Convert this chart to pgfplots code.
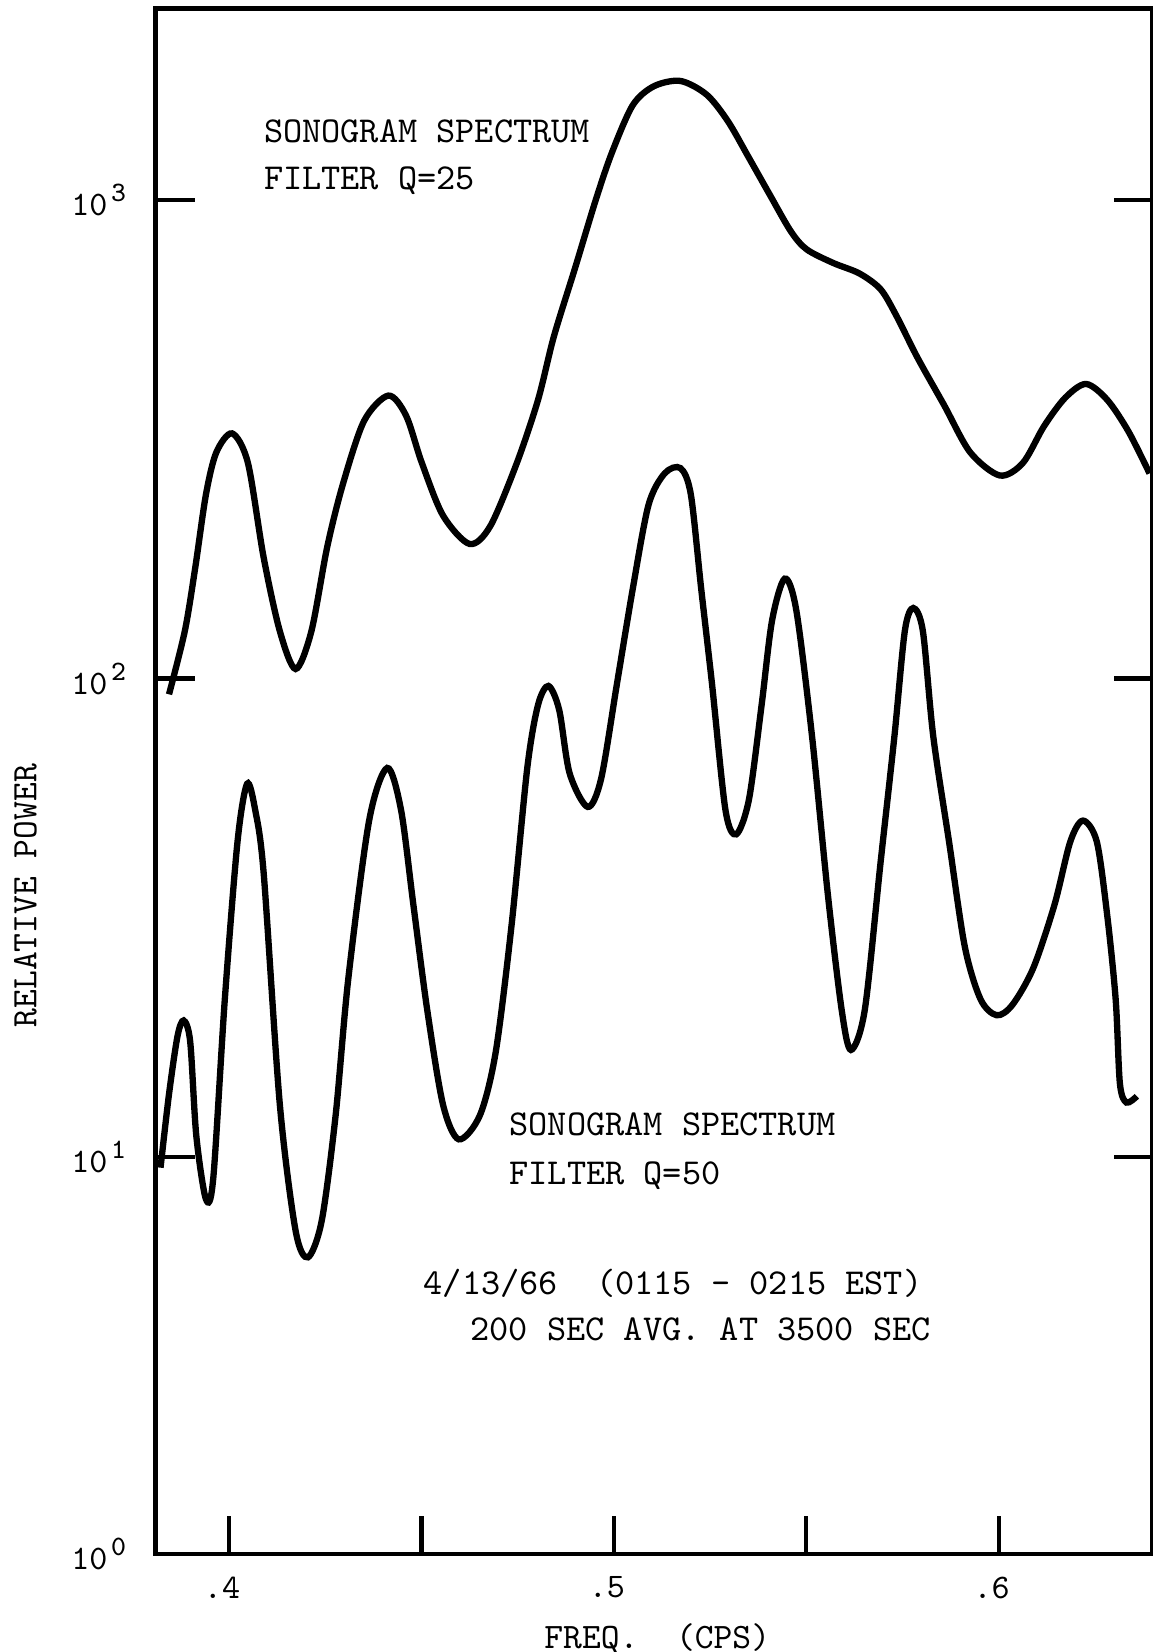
\documentclass[border=0pt]{standalone}
\usepackage{fontspec}
\renewcommand{\familydefault}{\ttdefault}
\usepackage{pgfplots}
\pgfplotsset{compat=1.18}

% decade label: 10 with a raised exponent
\newcommand{\dec}[1]{10\hspace{1pt}\raisebox{4pt}{\fontsize{8}{8}\selectfont #1}}

% Q=25 filter spectrum: frequency (cps), relative power
\pgfplotstableread{
f       p
0.3844  92.7
0.3885  125.6
0.3912  170.1
0.3940  242.4
0.3967  296.9
0.4008  325.2
0.4049  282.2
0.4090  178.9
0.4132  125.6
0.4173  104.7
0.4214  125.6
0.4255  188.2
0.4296  255.0
0.4351  345.5
0.4414  390.1
0.4460  354.3
0.4501  282.2
0.4556  219.1
0.4625  191.1
0.4679  208.3
0.4748  282.2
0.4803  382.3
0.4844  518.0
0.4899  719.7
0.4953  1000
0.4995  1255.7
0.5049  1576.5
0.5104  1727.5
0.5173  1771.9
0.5241  1659.0
0.5296  1461.5
0.5351  1224.2
0.5405  1025.6
0.5460  859.3
0.5501  788.2
0.5570  738.3
0.5638  702.0
0.5693  650.7
0.5734  573.1
0.5789  468.1
0.5858  372.8
0.5926  296.9
0.6003  265.6
0.6063  282.2
0.6118  336.9
0.6173  386.2
0.6227  412.5
0.6282  382.3
0.6337  328.5
0.6392  268.3
}\qtwentyfive

% Q=50 filter spectrum: frequency (cps), relative power
\pgfplotstableread{
f       p
0.3822  9.51
0.3844  13.55
0.3866  17.89
0.3882  19.31
0.3899  17.45
0.3915  11.07
0.3940  8.17
0.3959  9.04
0.3989  21.37
0.4022  45.62
0.4047  60.29
0.4068  53.12
0.4090  39.22
0.4132  12.88
0.4173  7.02
0.4205  6.18
0.4241  7.38
0.4277  12.24
0.4310  23.64
0.4364  50.50
0.4411  65.06
0.4447  53.12
0.4479  33.69
0.4515  20.31
0.4556  12.88
0.4597  10.90
0.4652  12.24
0.4693  16.59
0.4734  30.45
0.4775  65.06
0.4803  88.13
0.4830  96.52
0.4858  85.93
0.4885  63.42
0.4932  53.93
0.4967  61.82
0.5008  97.50
0.5049  153.8
0.5090  230.4
0.5132  268.3
0.5173  275.2
0.5200  242.4
0.5227  153.8
0.5255  97.50
0.5290  53.12
0.5318  47.27
0.5351  55.88
0.5384  88.13
0.5411  132.1
0.5444  161.7
0.5474  139.0
0.5515  75.71
0.5556  35.44
0.5592  20.31
0.5616  16.76
0.5652  20.31
0.5693  41.25
0.5729  75.71
0.5756  125.6
0.5778  140.4
0.5803  125.6
0.5830  75.71
0.5871  45.62
0.5912  27.52
0.5953  21.37
0.5995  19.80
0.6036  20.83
0.6090  24.86
0.6145  33.69
0.6186  45.62
0.6219  50.50
0.6255  45.62
0.6282  32.03
0.6304  21.37
0.6315  14.25
0.6332  13.01
0.6359  13.41
}\qfifty

\begin{document}
\begin{tikzpicture}
\useasboundingbox (-44.4pt,-27.9pt) rectangle (283.9pt,442.5pt);
\begin{axis}[
  at={(0,0)}, anchor=south west,
  scale only axis, width=283.8pt, height=440.1pt,
  xmin=0.381, xmax=0.640,
  ymode=log, ymin=1.483, ymax=2512,
  axis line style={line width=1.4pt},
  tick align=inside,
  major tick length=11pt,
  tick style={line width=1.2pt, black},
  xtick pos=bottom,
  ytick pos=both,
  xtick={0.4,0.45,0.5,0.55,0.6},
  xticklabels={.4,,.5,,.6},
  ytick={10,100,1000},
  yticklabels={\dec{1},\dec{2},\dec{3}},
  extra y ticks={1.483},
  extra y tick labels={\dec{0}},
  extra y tick style={major tick length=0pt},
  minor tick num=0,
  yminorticks=false,
  tick label style={font=\fontsize{9.8}{11}\selectfont},
  xticklabel style={yshift=-3pt, xshift=-2pt},
  yticklabel style={xshift=-5pt},
  label style={font=\fontsize{10.2}{12}\selectfont},
  xlabel={FREQ.\ \ (CPS)},
  ylabel={RELATIVE POWER},
  xlabel style={at={(axis description cs:0.503,-0.0545)}, anchor=center},
  ylabel style={at={(axis description cs:-0.131,0.426)}, anchor=center},
  every node/.append style={font=\fontsize{10.4}{12}\selectfont},
]
\addplot[black, line width=1.8pt, smooth, tension=0.5] table[x=f, y=p] {\qtwentyfive};
\addplot[black, line width=1.8pt, smooth, tension=0.5] table[x=f, y=p] {\qfifty};

\begin{scope}[every node/.style={anchor=base west, inner sep=0pt, font=\fontsize{10.4}{12}\selectfont}]
\node at (rel axis cs:0.1078,0.9134) {SONOGRAM SPECTRUM};
\node at (rel axis cs:0.1078,0.8828) {FILTER Q=25};
\node at (rel axis cs:0.3541,0.2709) {SONOGRAM SPECTRUM};
\node at (rel axis cs:0.3541,0.2390) {FILTER Q=50};
\node at (rel axis cs:0.2680,0.1680) {4/13/66\ \ (0115 - 0215 EST)};
\node at (rel axis cs:0.3150,0.1384) {200 SEC AVG. AT 3500 SEC};
\end{scope}
\end{axis}
\end{tikzpicture}
\end{document}
